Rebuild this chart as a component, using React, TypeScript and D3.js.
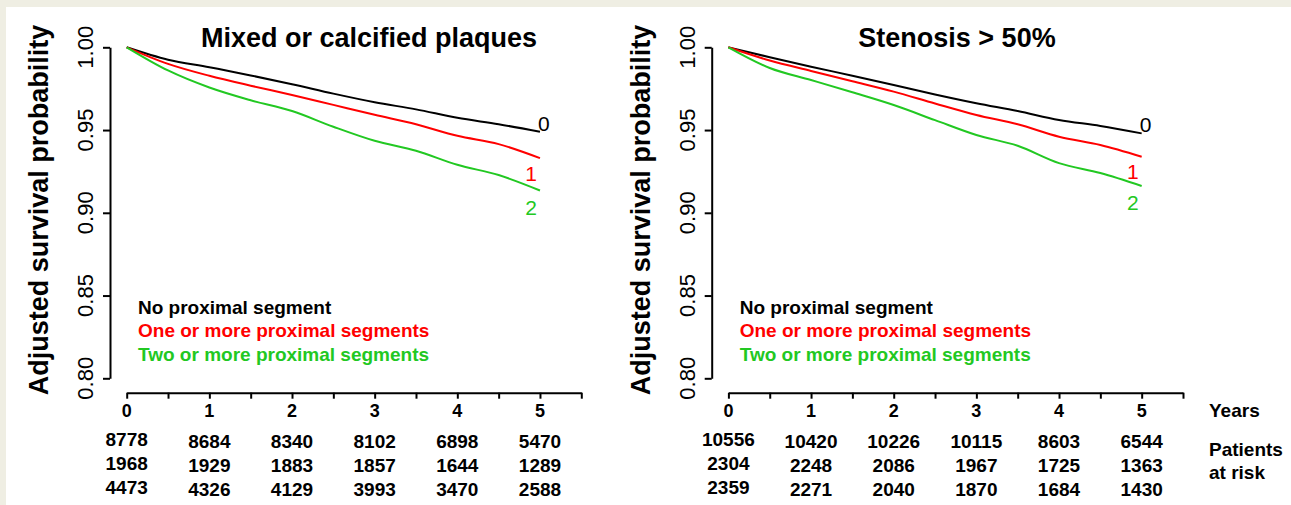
import { useEffect, useRef } from 'react';
import * as d3 from 'd3';

// follow-up time points (years) at which the curves were read
const times = [0, 0.5, 1, 1.5, 2, 2.5, 3, 3.5, 4, 4.5, 5];

// adjusted survival, "Mixed or calcified plaques"
const mixedNone = [1.0, 0.9925, 0.988, 0.983, 0.9777, 0.972, 0.9668, 0.9625, 0.9574, 0.9535, 0.949];
const mixedOne = [1.0, 0.99, 0.9828, 0.9768, 0.9712, 0.9652, 0.9592, 0.9535, 0.9465, 0.9415, 0.933];
const mixedTwo = [1.0, 0.986, 0.9757, 0.968, 0.9615, 0.952, 0.9435, 0.9375, 0.929, 0.9228, 0.9135];

// adjusted survival, "Stenosis > 50%"
const stenNone = [1.0, 0.994, 0.9883, 0.9828, 0.9772, 0.9715, 0.9662, 0.9615, 0.9561, 0.9525, 0.948];
const stenOne = [1.0, 0.992, 0.9857, 0.9795, 0.9732, 0.966, 0.9591, 0.9535, 0.946, 0.941, 0.9339];
const stenTwo = [1.0, 0.9875, 0.9802, 0.9728, 0.9651, 0.956, 0.947, 0.9405, 0.93, 0.924, 0.9162];

// patients at risk
const riskYears = [0, 1, 2, 3, 4, 5];
const mixedRisk = [
  [8778, 8684, 8340, 8102, 6898, 5470],
  [1968, 1929, 1883, 1857, 1644, 1289],
  [4473, 4326, 4129, 3993, 3470, 2588],
];
const stenRisk = [
  [10556, 10420, 10226, 10115, 8603, 6544],
  [2304, 2248, 2086, 1967, 1725, 1363],
  [2359, 2271, 2040, 1870, 1684, 1430],
];

const groupLabels = ['No proximal segment', 'One or more proximal segments', 'Two or more proximal segments'];
const curveTags = ['0', '1', '2'];
const colors = ['#000000', '#ff0000', '#22c822'];
const yTicks = [0.8, 0.85, 0.9, 0.95, 1.0];
const xTicks = [0, 0.5, 1, 1.5, 2, 2.5, 3, 3.5, 4, 4.5, 5, 5.5];

const font = '"Liberation Sans", Arial, Helvetica, sans-serif';

const drawPanel = (svg, off, title, titleX, series, risk) => {
  const g = svg.append('g').attr('transform', `translate(${off}, 0)`);

  const x = d3.scaleLinear().domain([0, 5.5]).range([126.7, 581.3]);
  const y = d3.scaleLinear().domain([0.8, 1]).range([378.3, 47.3]);

  // y axis
  const ya = g
    .append('g')
    .attr('transform', 'translate(110, 0)')
    .call(d3.axisLeft(y).tickValues(yTicks).tickSize(7).tickSizeOuter(0).tickFormat(() => ''));
  ya.selectAll('path, line').attr('stroke', '#000').attr('stroke-width', 2);

  g.append('g')
    .selectAll('text')
    .data(yTicks)
    .enter()
    .append('text')
    .attr('transform', d => `translate(93, ${y(d)}) rotate(-90)`)
    .attr('text-anchor', 'middle')
    .attr('font-family', font)
    .attr('font-size', 22)
    .text(d => d3.format('.2f')(d));

  // x axis
  const xa = g
    .append('g')
    .attr('transform', 'translate(0, 392.7)')
    .call(d3.axisBottom(x).tickValues(xTicks).tickSize(6).tickSizeOuter(0).tickFormat(() => ''));
  xa.selectAll('path, line').attr('stroke', '#000').attr('stroke-width', 2);

  g.append('g')
    .selectAll('text')
    .data(riskYears)
    .enter()
    .append('text')
    .attr('x', d => x(d))
    .attr('y', 416.8)
    .attr('text-anchor', 'middle')
    .attr('font-family', font)
    .attr('font-weight', 'bold')
    .attr('font-size', 18)
    .text(d => d);

  // axis title + panel title
  g.append('text')
    .attr('transform', 'translate(48, 210) rotate(-90)')
    .attr('text-anchor', 'middle')
    .attr('font-family', font)
    .attr('font-weight', 'bold')
    .attr('font-size', 27)
    .text('Adjusted survival probability');

  g.append('text')
    .attr('x', titleX)
    .attr('y', 47)
    .attr('text-anchor', 'middle')
    .attr('font-family', font)
    .attr('font-weight', 'bold')
    .attr('font-size', 27)
    .text(title);

  // curves
  const line = d3
    .line()
    .x((d, i) => x(times[i]))
    .y(d => y(d))
    .curve(d3.curveMonotoneX);

  g.append('g')
    .selectAll('path')
    .data(series)
    .enter()
    .append('path')
    .attr('d', d => line(d))
    .attr('fill', 'none')
    .attr('stroke', (d, i) => colors[i])
    .attr('stroke-width', 2);

  // curve tags at the end of each curve
  const tagDx = [-2, -3, -3];
  const tagDy = [-1, 22.5, 24.5];
  g.append('g')
    .selectAll('text')
    .data(series)
    .enter()
    .append('text')
    .attr('x', (d, i) => x(5) + tagDx[i])
    .attr('y', (d, i) => y(d[d.length - 1]) + tagDy[i])
    .attr('text-anchor', (d, i) => (i === 0 ? 'start' : 'end'))
    .attr('font-family', font)
    .attr('font-size', 21)
    .attr('fill', (d, i) => colors[i])
    .text((d, i) => curveTags[i]);

  // legend
  g.append('g')
    .selectAll('text')
    .data(groupLabels)
    .enter()
    .append('text')
    .attr('x', 138)
    .attr('y', (d, i) => 313.8 + i * 23.5)
    .attr('font-family', font)
    .attr('font-weight', 'bold')
    .attr('font-size', 19)
    .attr('fill', (d, i) => colors[i])
    .text(d => d);

  // numbers at risk
  risk.forEach((row, r) => {
    g.append('g')
      .selectAll('text')
      .data(row)
      .enter()
      .append('text')
      .attr('x', (d, i) => x(riskYears[i]))
      .attr('y', (d, i) => 447.8 + r * 24 - (i === 0 ? 2 : 0))
      .attr('text-anchor', 'middle')
      .attr('font-family', font)
      .attr('font-weight', 'bold')
      .attr('font-size', 19)
      .text(d => d);
  });
};

const draw = div => {
  d3.select(div).selectAll('*').remove();

  const svg = d3.select(div).attr('width', 1291).attr('height', 505);

  svg.append('rect').attr('width', 1291).attr('height', 505).attr('fill', '#efeee3');
  svg.append('rect').attr('x', 6).attr('y', 7).attr('width', 1285).attr('height', 498).attr('fill', '#ffffff');

  drawPanel(svg, 0, 'Mixed or calcified plaques', 369, [mixedNone, mixedOne, mixedTwo], mixedRisk);
  drawPanel(svg, 601.7, 'Stenosis > 50%', 957 - 601.7, [stenNone, stenOne, stenTwo], stenRisk);

  const side = svg
    .append('g')
    .attr('font-family', font)
    .attr('font-weight', 'bold')
    .attr('font-size', 19);
  side.append('text').attr('x', 1209).attr('y', 416.8).text('Years');
  side.append('text').attr('x', 1209).attr('y', 456).text('Patients');
  side.append('text').attr('x', 1209).attr('y', 478.5).text('at risk');
};

export default function App() {
  const ref = useRef(null);

  useEffect(() => {
    draw(ref.current);
  }, []);

  return <svg ref={ref} style={{ position: 'absolute', left: 0, top: 0, display: 'block' }} />;
}
